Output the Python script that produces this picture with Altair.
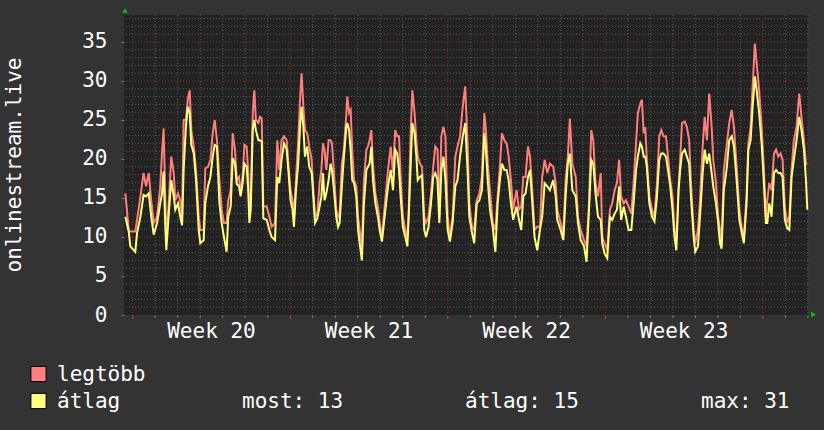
import altair as alt
import pandas as pd

# ---- data (time in days from left edge of plot) ----
t_days = [
    0.06, 0.21, 0.28, 0.50, 0.58, 0.73, 0.87, 0.98, 1.10, 1.21, 1.32, 1.47, 1.61, 1.69, 1.76,
    1.84, 1.88, 1.98, 2.10, 2.21, 2.28, 2.40, 2.50, 2.58, 2.65, 2.75, 2.84, 2.92, 2.99, 3.10,
    3.20, 3.32, 3.39, 3.54, 3.61, 3.73, 3.84, 3.94, 4.03, 4.13, 4.24,
    4.34, 4.44, 4.56, 4.63, 4.74, 4.83, 4.93, 5.01, 5.11, 5.18, 5.27, 5.35, 5.45, 5.52, 5.57,
    5.63, 5.72, 5.79, 5.86, 5.97, 6.04, 6.12, 6.19, 6.34, 6.46, 6.56, 6.71, 6.81, 6.90, 7.00,
    7.11, 7.23, 7.30, 7.40, 7.49, 7.55, 7.64, 7.74, 7.82, 7.89, 7.97, 8.04, 8.14, 8.23, 8.34,
    8.41, 8.49, 8.59,
    8.69, 8.77, 8.84, 8.91, 8.99, 9.09, 9.18, 9.24, 9.33, 9.43, 9.51, 9.58, 9.68, 9.77, 9.88,
    9.92, 10.00, 10.07, 10.14, 10.22, 10.32, 10.40, 10.47, 10.57, 10.66, 10.77, 10.84, 10.91,
    10.99, 11.06, 11.17, 11.28, 11.36, 11.46, 11.58, 11.73, 11.85, 11.95, 12.05, 12.14, 12.22,
    12.29, 12.39, 12.50, 12.59, 12.65, 12.74, 12.81, 12.91, 12.99,
    13.05, 13.15, 13.24, 13.34, 13.42, 13.53, 13.64, 13.74, 13.83, 13.93, 14.01, 14.10, 14.19,
    14.28, 14.38, 14.48, 14.60, 14.72, 14.82, 14.93, 15.05, 15.16, 15.27, 15.34, 15.46, 15.56,
    15.67, 15.79, 15.90, 16.01, 16.08, 16.16, 16.26, 16.38, 16.50, 16.60, 16.70, 16.79, 16.90,
    17.00, 17.09, 17.19, 17.29,
    17.44, 17.55, 17.65, 17.74, 17.84, 17.95, 18.04, 18.14, 18.24, 18.36, 18.48, 18.58, 18.69,
    18.81, 18.92, 19.07, 19.18, 19.25, 19.40, 19.52, 19.62, 19.72, 19.81, 19.92, 20.07, 20.17,
    20.29, 20.44, 20.55, 20.66, 20.76, 20.85, 20.95, 21.06, 21.18, 21.25, 21.35, 21.47, 21.59,
    21.69,
    21.80, 21.90, 22.00, 22.09, 22.20, 22.30, 22.42, 22.54, 22.64, 22.75, 22.83, 22.94, 23.01,
    23.09, 23.16, 23.23, 23.34, 23.46, 23.57, 23.68, 23.78, 23.87, 23.97, 24.08, 24.17, 24.27,
    24.37, 24.46, 24.54, 24.64, 24.71, 24.79, 24.91, 25.01, 25.11, 25.20, 25.31, 25.38, 25.50,
    25.60, 25.71, 25.80, 25.90, 26.00,
    26.11, 26.18, 26.30, 26.40, 26.48, 26.55, 26.65, 26.77, 26.89, 27.00, 27.10, 27.22, 27.34,
    27.44, 27.54, 27.66, 27.74, 27.84, 27.93, 28.03, 28.11, 28.22, 28.33, 28.43, 28.52, 28.58,
    28.67, 28.77, 28.88, 28.97, 29.07, 29.17, 29.26, 29.36, 29.47, 29.56, 29.66, 29.76, 29.88,
    30.00, 30.10, 30.21, 30.30, 30.36,
]

legtobb = [
    15.6, 10.9, 10.7, 10.7, 12.2, 15.2, 18.2, 16.5, 18.2, 14.7, 11.8, 12.6, 16.5, 20.9, 23.9,
    14.3, 10.0, 13.9, 20.3, 18.2, 14.7, 15.6, 14.7, 12.6, 25.0, 25.0, 27.8, 28.8, 23.7, 21.6,
    18.6, 12.6, 10.9, 10.9, 18.8, 19.0, 19.9, 23.3, 25.0, 22.4, 17.3,
    13.5, 11.8, 11.8, 14.7, 16.0, 23.3, 21.2, 17.3, 17.7, 15.6, 17.7, 21.8, 21.6, 18.2, 12.6,
    14.3, 25.9, 28.8, 25.0, 24.6, 25.4, 25.2, 13.9, 13.9, 12.6, 11.3, 11.8, 22.4, 18.6, 22.4,
    22.9, 22.4, 19.4, 16.0, 14.7, 12.2, 17.3, 22.4, 27.6, 31.0, 26.7, 23.7, 23.3, 21.6, 19.9,
    16.0, 12.6, 13.0,
    16.9, 18.6, 22.0, 21.2, 18.6, 22.4, 22.4, 22.0, 18.2, 13.5, 12.6, 13.0, 19.4, 21.2, 25.9,
    28.0, 25.9, 26.3, 21.2, 17.3, 16.5, 12.6, 10.9, 8.8, 17.3, 21.2, 21.6, 22.4,
    23.7, 19.4, 15.6, 13.9, 11.8, 10.0, 13.9, 18.6, 21.6, 18.2, 23.7, 22.9, 22.9,
    17.7, 12.6, 10.9, 10.0, 13.5, 23.7, 28.8, 25.9, 22.4,
    20.3, 19.4, 19.0, 12.6, 11.8, 12.6, 15.6, 19.0, 21.6, 21.2, 12.6, 22.9, 24.1,
    22.9, 12.6, 10.0, 12.6, 20.3, 21.6, 22.9, 26.7, 29.3, 21.6, 14.3, 11.3, 10.9,
    14.7, 15.6, 17.7, 25.9, 23.7, 19.4, 16.0, 11.8, 10.9, 15.2, 19.0, 23.3, 22.4,
    22.0, 20.3, 17.3, 13.5,
    16.0, 13.5, 13.9, 17.7, 17.7, 21.6, 20.3, 16.0, 10.9, 11.3, 11.3, 17.7, 19.9,
    18.2, 19.4, 19.0, 16.9, 13.5, 11.8, 10.5, 17.3, 20.3, 25.2, 19.4, 17.7, 12.6,
    10.9, 9.6, 8.8, 14.3, 23.7, 22.4, 16.9, 15.2, 18.2, 10.0, 9.2, 8.3, 13.5,
    14.3,
    16.0, 16.9, 19.9, 15.2, 14.3, 14.7, 13.9, 13.0, 16.9, 22.0, 25.9, 27.1, 27.6,
    23.3, 24.1, 19.9, 15.2, 13.5, 12.6, 16.9, 22.9, 23.7, 22.9, 22.9, 20.3, 17.3,
    15.2, 10.9, 9.2, 16.5, 19.9, 24.6, 24.8, 24.1, 22.4, 16.5, 10.9, 9.2, 10.9,
    15.2, 21.6, 25.4, 22.4, 28.4,
    24.1, 19.9, 16.9, 12.6, 10.9, 9.2, 18.6, 21.6, 24.6, 26.3, 24.1, 19.0, 13.5,
    11.3, 10.0, 15.2, 22.0, 24.1, 29.3, 34.8, 32.3, 28.8, 24.1, 18.6, 12.6, 14.7,
    16.9, 16.0, 20.7, 21.2, 20.3, 20.7, 19.9, 13.9, 11.8, 12.6, 18.6, 22.4, 24.1,
    28.4, 25.4, 22.4, 19.4, 19.4,
]

atlag = [
    12.6, 10.7, 8.8, 8.1, 10.5, 12.6, 15.4, 15.2, 15.6, 12.6, 10.3, 11.8, 14.3, 15.6, 18.4,
    10.9, 8.3, 12.6, 17.3, 15.2, 13.5, 14.3, 12.6, 11.5, 18.6, 24.1, 26.7, 25.9, 21.8, 20.7,
    17.3, 10.9, 9.2, 9.6, 14.3, 16.5, 17.7, 20.3, 21.8, 21.6, 14.3,
    11.8, 10.0, 8.1, 12.6, 13.9, 20.1, 19.4, 16.8, 16.5, 15.2, 16.9, 19.4, 19.0, 16.0, 11.8,
    13.5, 23.7, 25.0, 23.7, 22.4, 22.4, 22.2, 12.4, 12.2, 10.9, 10.0, 9.6, 17.7, 16.9, 19.9,
    22.0, 21.2, 18.6, 14.7, 13.5, 11.3, 16.0, 19.4, 24.1, 26.7, 24.1, 20.3, 21.6, 19.0, 18.2,
    15.2, 11.8, 12.4,
    13.9, 15.2, 18.2, 14.7, 15.6, 17.3, 19.4, 18.6, 16.0, 12.6, 11.3, 11.8, 16.5, 20.3, 24.1,
    24.6, 23.7, 21.2, 17.3, 16.9, 15.2, 10.9, 9.2, 7.0, 14.3, 18.6, 19.0, 19.4,
    21.6, 17.3, 14.3, 12.6, 10.9, 9.4, 12.6, 16.5, 18.6, 16.0, 21.2, 20.7, 18.6,
    15.2, 11.3, 10.0, 8.8, 12.6, 19.4, 24.6, 23.3, 20.3,
    17.3, 17.7, 17.9, 10.9, 10.0, 11.3, 14.3, 17.7, 18.2, 17.3, 11.8, 18.6, 20.3,
    17.3, 10.9, 9.4, 11.8, 16.5, 17.3, 20.3, 22.9, 24.6, 18.2, 12.6, 10.6, 9.2,
    14.3, 14.7, 16.0, 23.3, 21.2, 17.3, 13.5, 11.3, 8.1, 14.3, 17.3, 19.4, 18.6,
    18.6, 17.3, 14.3, 12.2,
    13.9, 12.2, 10.9, 15.2, 15.6, 17.7, 18.6, 14.3, 10.0, 8.3, 10.9, 12.6, 16.9,
    16.5, 16.0, 17.3, 15.2, 12.2, 10.9, 9.6, 15.2, 19.4, 20.7, 16.0, 15.2, 11.8,
    9.6, 8.8, 6.8, 13.5, 19.9, 19.4, 15.6, 12.6, 12.2, 9.2, 7.9, 7.3, 12.6,
    12.2,
    13.0, 13.5, 16.5, 12.2, 13.9, 12.6, 10.9, 10.9, 14.3, 18.6, 20.3, 22.0, 21.6,
    20.3, 20.3, 19.0, 14.3, 12.6, 12.0, 15.2, 19.9, 20.7, 20.7, 20.3, 18.6, 16.5,
    13.5, 10.0, 8.3, 16.0, 18.6, 20.7, 21.2, 20.3, 19.4, 14.7, 10.0, 8.1, 8.8,
    13.0, 18.2, 21.2, 19.4, 20.7,
    18.2, 16.5, 14.3, 11.8, 9.2, 8.5, 16.0, 18.6, 22.4, 22.9, 21.6, 17.3, 12.2,
    10.7, 9.2, 14.3, 21.2, 22.4, 26.7, 30.6, 28.8, 25.9, 22.0, 16.9, 11.8, 11.8,
    14.3, 12.6, 18.2, 18.6, 18.2, 18.2, 17.7, 12.2, 11.1, 10.9, 17.7, 19.9, 22.4,
    25.4, 23.7, 21.2, 17.3, 13.5,
]

y_ticks = [0, 5, 10, 15, 20, 25, 30, 35]
y_minor = [v for v in range(1, 39) if v % 5 != 0]
week_lines = [0.386, 7.386, 14.386, 21.386, 28.386]
day_lines = [round(0.386 + k, 3) for k in range(31) if k % 7 != 0]
week_labels = ["Week 20", "Week 21", "Week 22", "Week 23"]
week_mid = [3.886, 10.886, 17.886, 24.886]

X_MAX = 30.39
Y_MAX = 38.46
FONT = "DejaVu Sans Mono"
RED = "#ff7f7f"
YEL = "#ffff7f"
MINOR = "#5c5c5c"
MAJOR = "#7a3636"

df = pd.DataFrame({"t": t_days, "legtobb": legtobb, "atlag": atlag})

xs = alt.Scale(domain=[0, X_MAX], nice=False, zero=False)
ys = alt.Scale(domain=[0, Y_MAX], nice=False, zero=True)

Y_AXIS = alt.Axis(
    values=y_ticks, title=None, grid=False, domain=False,
    labelFont=FONT, labelFontSize=21, labelColor="#ffffff",
    labelPadding=14, tickSize=3, tickColor="#777777",
)


def grid_h(vals, color):
    return alt.Chart(pd.DataFrame({"v": vals})).mark_rule(
        color=color, strokeWidth=1, strokeDash=[1, 2]
    ).encode(y=alt.Y("v:Q", scale=ys, axis=Y_AXIS))


def grid_v(vals, color):
    return alt.Chart(pd.DataFrame({"v": vals})).mark_rule(
        color=color, strokeWidth=1, strokeDash=[1, 2]
    ).encode(x=alt.X("v:Q", scale=xs, axis=None))


g_hmin = grid_h(y_minor, MINOR)
g_vmin = grid_v(day_lines, MINOR)
g_hmaj = grid_h(y_ticks[1:], MAJOR)
g_vmaj = grid_v(week_lines, MAJOR)

# small ticks below the x axis
ticks_min = alt.Chart(pd.DataFrame({"v": day_lines})).mark_rule(
    color="#777777", strokeWidth=1
).encode(x=alt.X("v:Q", scale=xs, axis=None), y=alt.value(300), y2=alt.value(303))
ticks_maj = alt.Chart(pd.DataFrame({"v": week_lines})).mark_rule(
    color="#c04040", strokeWidth=1
).encode(x=alt.X("v:Q", scale=xs, axis=None), y=alt.value(300), y2=alt.value(304))

line_red = alt.Chart(df).mark_line(color=RED, strokeWidth=2, interpolate="linear").encode(
    x=alt.X("t:Q", scale=xs, axis=None),
    y=alt.Y("legtobb:Q", scale=ys, axis=Y_AXIS),
)
line_yel = alt.Chart(df).mark_line(color=YEL, strokeWidth=2, interpolate="linear").encode(
    x=alt.X("t:Q", scale=xs, axis=None),
    y=alt.Y("atlag:Q", scale=ys, axis=Y_AXIS),
)

week_text = alt.Chart(pd.DataFrame({"t": week_mid, "lab": week_labels})).mark_text(
    font=FONT, fontSize=21, color="#ffffff", align="center", baseline="alphabetic"
).encode(x=alt.X("t:Q", scale=xs, axis=None), y=alt.value(323), text="lab:N")

one = alt.Data(values=[{"a": 1}])


def label(txt, x, y, align="left", angle=0):
    return alt.Chart(one).mark_text(
        font=FONT, fontSize=21, color="#ffffff", align=align, baseline="alphabetic", angle=angle
    ).encode(x=alt.value(x), y=alt.value(y), text=alt.value(txt))


def swatch(color, x, y):
    return alt.Chart(one).mark_square(
        size=230, fill=color, stroke="#000000", strokeWidth=1, opacity=1, filled=True
    ).encode(x=alt.value(x), y=alt.value(y))


def arrow(shape, x, y):
    return alt.Chart(one).mark_point(
        shape=shape, size=28, filled=True, color="#00d000", opacity=1
    ).encode(x=alt.value(x), y=alt.value(y))


title = label("onlinestream.live", -103, 150, align="center", angle=270)

legend = alt.layer(
    swatch(RED, -85.5, 359),
    swatch(YEL, -85.5, 386),
    label("legtöbb", -67, 366),
    label("átlag", -67, 393),
    label("most: 13", 118, 393),
    label("átlag: 15", 341, 393),
    label("max: 31", 577, 393),
)

chart = alt.layer(
    g_hmin, g_vmin, g_hmaj, g_vmaj, ticks_min, ticks_maj,
    line_red, line_yel, week_text, title, legend,
    arrow("triangle-up", 1, -4.5), arrow("triangle-right", 689.5, 299.5),
).properties(
    width=684, height=300,
    autosize=alt.AutoSizeParams(type="none"),
    padding={"left": 124, "top": 15, "right": 16, "bottom": 115},
    background="#333333",
).configure_view(fill="#222222", strokeWidth=0)

chart.save("out.html", embed_options={"renderer": "svg", "actions": False})
